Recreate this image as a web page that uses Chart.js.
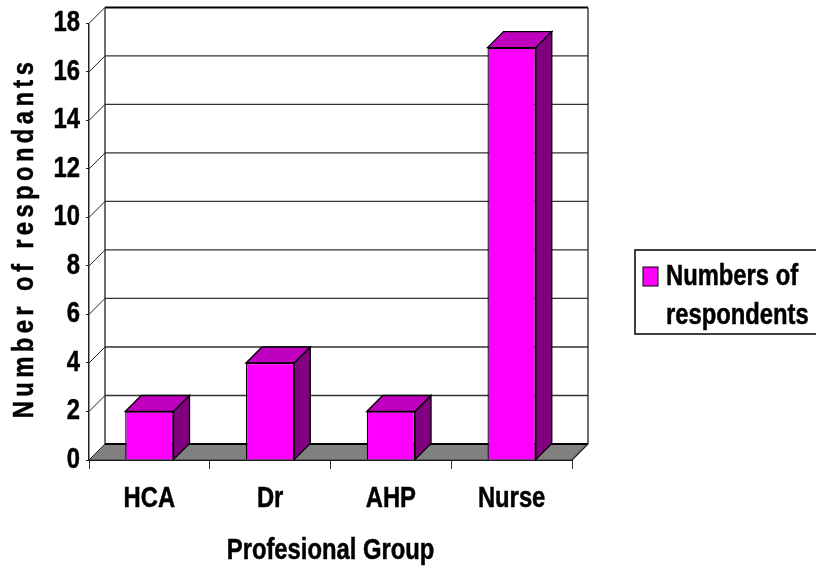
<!DOCTYPE html>
<html>
<head>
<meta charset="utf-8">
<style>
  html, body { margin: 0; padding: 0; background: #fff; }
  #wrap { width: 816px; height: 568px; }
</style>
<script src="https://cdn.jsdelivr.net/npm/chart.js@4"></script>
</head>
<body>
<div id="wrap"><canvas id="chart"></canvas></div>
<script>
const categories = ['HCA', 'Dr', 'AHP', 'Nurse'];
const respondents = [2, 4, 2, 17];
const seriesName = 'Numbers of respondents';
const legendLines = ['Numbers of', 'respondents'];
const yTitle = 'Number of respondants';
const xTitle = 'Profesional Group';

const depth = 16; // 3d offset of the back wall
const family = '"Liberation Sans"';
const font = 'bold 29px ' + family;
const axisFont = { family: family, size: 29, weight: 'bold' };
const squeeze = 0.82; // no narrow face installed, so text is squeezed sideways

const canvas = document.getElementById('chart');
const context = canvas.getContext('2d');
const plainFillText = context.fillText;
context.fillText = function (text, x, y) {
  this.save();
  this.translate(x, y);
  this.scale(squeeze, 1);
  plainFillText.call(this, text, 0, 0);
  // thin outline, the original text is a bit heavier
  this.strokeStyle = this.fillStyle;
  this.lineWidth = 0.5;
  this.strokeText(text, 0, 0);
  this.restore();
};

// back wall, floor and the side/top faces of the bars
const box3d = {
  id: 'box3d',
  beforeDatasetsDraw(chart) {
    const { ctx, chartArea: a, scales: { y } } = chart;
    ctx.save();
    // floor
    ctx.fillStyle = '#808080';
    ctx.beginPath();
    ctx.moveTo(a.left, a.bottom);
    ctx.lineTo(a.left + depth, a.bottom - depth);
    ctx.lineTo(a.right + depth, a.bottom - depth);
    ctx.lineTo(a.right, a.bottom);
    ctx.closePath();
    ctx.fill();
    ctx.strokeStyle = '#333';
    ctx.lineWidth = 1;
    ctx.stroke();
    // gridlines on the wall, with the little diagonal on the left side
    y.ticks.forEach(t => {
      const py = y.getPixelForValue(t.value);
      const heavy = t.value === 0 || t.value === y.max;
      ctx.strokeStyle = heavy ? '#000' : '#333';
      ctx.lineWidth = heavy ? 2 : 1.3;
      ctx.beginPath();
      ctx.moveTo(a.left + depth, py - depth);
      ctx.lineTo(a.right + depth, py - depth);
      ctx.stroke();
      ctx.lineWidth = 1;
      ctx.strokeStyle = '#222';
      ctx.beginPath();
      ctx.moveTo(a.left, py);
      ctx.lineTo(a.left + depth, py - depth);
      ctx.stroke();
    });
    // wall edges
    ctx.strokeStyle = '#222';
    ctx.lineWidth = 1.3;
    ctx.beginPath();
    ctx.moveTo(a.left + depth, a.top - depth);
    ctx.lineTo(a.left + depth, a.bottom - depth);
    ctx.moveTo(a.right + depth, a.top - depth);
    ctx.lineTo(a.right + depth, a.bottom - depth);
    ctx.lineTo(a.right, a.bottom);
    ctx.stroke();
    // bar tops and sides
    ctx.strokeStyle = '#000';
    ctx.lineWidth = 1.3;
    chart.getDatasetMeta(0).data.forEach(bar => {
      const l = bar.x - bar.width / 2, r = bar.x + bar.width / 2;
      const top = bar.y, bottom = bar.base;
      ctx.fillStyle = '#BF00BF';
      ctx.beginPath();
      ctx.moveTo(l, top);
      ctx.lineTo(l + depth, top - depth);
      ctx.lineTo(r + depth, top - depth);
      ctx.lineTo(r, top);
      ctx.closePath();
      ctx.fill();
      ctx.stroke();
      ctx.fillStyle = '#800080';
      ctx.beginPath();
      ctx.moveTo(r, top);
      ctx.lineTo(r + depth, top - depth);
      ctx.lineTo(r + depth, bottom - depth);
      ctx.lineTo(r, bottom);
      ctx.closePath();
      ctx.fill();
      ctx.stroke();
    });
    ctx.restore();
  },
  afterDraw(chart) {
    const { ctx } = chart;
    ctx.save();
    // spaced out y axis title
    ctx.translate(25, 238);
    ctx.rotate(-Math.PI / 2);
    ctx.font = font;
    ctx.letterSpacing = '5.36px';
    ctx.fillStyle = '#000';
    ctx.textAlign = 'center';
    ctx.textBaseline = 'middle';
    ctx.fillText(yTitle, 0, 0);
    ctx.restore();
    // legend box
    ctx.save();
    ctx.strokeStyle = '#000';
    ctx.lineWidth = 1.5;
    ctx.strokeRect(635, 250, 200, 84);
    ctx.fillStyle = '#FF00FF';
    ctx.lineWidth = 1;
    ctx.fillRect(643, 267, 15, 19);
    ctx.strokeRect(643, 267, 15, 19);
    ctx.font = font;
    ctx.fillStyle = '#000';
    ctx.textBaseline = 'middle';
    legendLines.forEach((line, i) => ctx.fillText(line, 666, 277 + i * 39));
    ctx.restore();
  }
};

new Chart(canvas, {
  type: 'bar',
  data: {
    labels: categories,
    datasets: [{
      label: seriesName,
      data: respondents,
      backgroundColor: '#FF00FF',
      borderColor: '#000',
      borderWidth: 1.3,
      barPercentage: 0.4,
      categoryPercentage: 1
    }]
  },
  options: {
    responsive: true,
    maintainAspectRatio: false,
    animation: false,
    devicePixelRatio: 1,
    layout: { padding: { top: 23, right: 244 } },
    plugins: { legend: { display: false }, tooltip: { enabled: false } },
    scales: {
      x: {
        afterFit(scale) { scale.height = 108; },
        grid: { drawOnChartArea: false, tickLength: 9, color: '#333', offset: true },
        border: { color: '#000', width: 2 },
        ticks: { color: '#000', font: axisFont, padding: 13, maxRotation: 0 },
        title: { display: true, text: xTitle, color: '#000', font: axisFont, padding: { top: 0, bottom: 0 } }
      },
      y: {
        min: 0,
        max: 18,
        afterFit(scale) { scale.width = 89; },
        grid: { drawOnChartArea: false, tickLength: 3, color: '#222' },
        border: { color: '#222', width: 1.5 },
        ticks: { stepSize: 2, color: '#000', font: axisFont, padding: 6 }
      }
    }
  },
  plugins: [box3d]
});
</script>
</body>
</html>
